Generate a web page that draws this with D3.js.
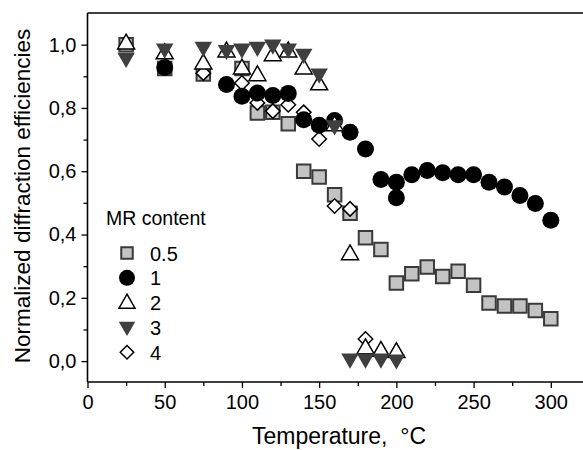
<!DOCTYPE html>
<html>
<head>
<script src="https://d3js.org/d3.v7.min.js"></script>
<style>
  body { margin: 0; background: #fff; }
  text { font-family: "Liberation Sans", Arial, sans-serif; fill: #000; }
</style>
</head>
<body>
<div id="chart"></div>
<script>
// temperatures (°C) and normalized efficiencies per MR content
var t05 = [25, 50, 75, 100, 110, 120, 130, 140, 150, 160, 170, 180, 190, 200, 210, 220, 230, 240, 250, 260, 270, 280, 290, 300];
var v05 = [1.0, 0.925, 0.907, 0.925, 0.784, 0.786, 0.75, 0.60, 0.582, 0.526, 0.467, 0.39, 0.353, 0.247, 0.276, 0.297, 0.267, 0.284, 0.24, 0.184, 0.174, 0.174, 0.16, 0.134];

var t1 = [50, 90, 100, 110, 120, 130, 140, 150, 160, 170, 180, 190, 200, 200, 210, 220, 230, 240, 250, 260, 270, 280, 290, 300];
var v1 = [0.928, 0.874, 0.837, 0.847, 0.839, 0.846, 0.763, 0.745, 0.76, 0.723, 0.67, 0.574, 0.565, 0.516, 0.589, 0.602, 0.595, 0.589, 0.589, 0.565, 0.55, 0.523, 0.498, 0.445];

var t2 = [25, 50, 75, 90, 100, 110, 120, 130, 140, 150, 160, 170, 180, 190, 200];
var v2 = [1.005, 0.974, 0.942, 0.98, 0.926, 0.905, 0.968, 0.98, 0.926, 0.876, 0.747, 0.339, 0.042, 0.034, 0.03];

var t3 = [25, 50, 75, 90, 100, 110, 120, 130, 140, 150, 160, 170, 180, 190, 200];
var v3 = [0.955, 0.984, 0.99, 0.98, 0.984, 0.99, 0.997, 0.984, 0.968, 0.905, 0.742, 0.005, 0.005, 0.005, 0.002];

var t4 = [75, 100, 110, 120, 130, 140, 150, 160, 170, 180];
var v4 = [0.91, 0.879, 0.816, 0.79, 0.81, 0.786, 0.702, 0.49, 0.481, 0.07];

var legendLabels = ["0.5", "1", "2", "3", "4"];

var width = 583, height = 450;
var svg = d3.select("#chart").append("svg")
    .attr("width", width).attr("height", height);

var x = d3.scaleLinear().domain([0, 321.5]).range([87.5, 584]);
var y = d3.scaleLinear().domain([-0.066, 1.1]).range([382, 13]);

// marker shapes, s = overall size in px
var shapes = {
    square: function (s) { return "M" + (-s / 2) + "," + (-s / 2) + "h" + s + "v" + s + "h" + (-s) + "Z"; },
    circle: function (s) { var r = s / 2; return "M" + r + ",0A" + r + "," + r + " 0 1,1 " + (-r) + ",0A" + r + "," + r + " 0 1,1 " + r + ",0Z"; },
    up: function (s) { var h = s * 0.87; return "M0," + (-h * 0.6) + "L" + (s / 2) + "," + (h * 0.4) + "L" + (-s / 2) + "," + (h * 0.4) + "Z"; },
    down: function (s) { var h = s * 0.87; return "M0," + (h * 0.6) + "L" + (s / 2) + "," + (-h * 0.4) + "L" + (-s / 2) + "," + (-h * 0.4) + "Z"; },
    diamond: function (s) { var r = s / 2; return "M0," + (-r) + "L" + r + ",0L0," + r + "L" + (-r) + ",0Z"; }
};

// drawing order: squares, diamonds, circles, up triangles, down triangles
var series = [
    { t: t05, v: v05, shape: "square", size: 13.5, fill: "#c3c3c3", stroke: "#3a3a3a", sw: 2 },
    { t: t4, v: v4, shape: "diamond", size: 14.5, fill: "#fff", stroke: "#000", sw: 1.5 },
    { t: t1, v: v1, shape: "circle", size: 17, fill: "#000", stroke: "none", sw: 0 },
    { t: t2, v: v2, shape: "up", size: 17, fill: "#fff", stroke: "#000", sw: 1.5 },
    { t: t3, v: v3, shape: "down", size: 17.5, fill: "#3f3f3f", stroke: "none", sw: 0 }
];

// top frame line
svg.append("line").attr("x1", x(0)).attr("x2", width).attr("y1", 13).attr("y2", 13)
    .attr("stroke", "#000").attr("stroke-width", 1.6);

var xAxis = svg.append("g").attr("transform", "translate(0," + y.range()[0] + ")")
    .call(d3.axisBottom(x).tickValues(d3.range(0, 325, 25)).tickSize(6)
        .tickFormat(function (d) { return d % 50 == 0 ? d : ""; }).tickPadding(7));
var yAxis = svg.append("g").attr("transform", "translate(" + x(0) + ",0)")
    .call(d3.axisLeft(y).tickValues(d3.range(0, 1.05, 0.1)).tickSize(6)
        .tickFormat(function (d, i) { return i % 2 == 0 ? d3.format(".1f")(d).replace(".", ",") : ""; }).tickPadding(5));

[xAxis, yAxis].forEach(function (g) {
    g.select(".domain").attr("stroke-width", 1.6);
    g.selectAll(".tick line").attr("stroke-width", 1.3);
    g.selectAll(".tick text").style("font-size", "20px").attr("font-family", "Liberation Sans, Arial, sans-serif");
});
xAxis.select(".domain").attr("d", "M" + x(0) + ",0H" + width);
yAxis.select(".domain").attr("d", "M0," + y.range()[0] + "V13");
xAxis.selectAll(".tick").filter(function (d) { return d % 50 != 0; }).select("line").attr("y2", 4);
yAxis.selectAll(".tick").filter(function (d, i) { return i % 2 == 1; }).select("line").attr("x2", -4);

// markers
series.forEach(function (s) {
    svg.append("g").selectAll("path").data(s.t).enter().append("path")
        .attr("transform", function (d, i) { return "translate(" + x(d) + "," + y(s.v[i]) + ")"; })
        .attr("d", shapes[s.shape](s.size))
        .attr("fill", s.fill).attr("stroke", s.stroke).attr("stroke-width", s.sw);
});

// legend
svg.append("text").attr("x", 106).attr("y", 225).text("MR content").style("font-size", "19.5px");
var legendOrder = [0, 2, 3, 4, 1];
legendLabels.forEach(function (lab, i) {
    var s = series[legendOrder[i]];
    var ly = 253 + i * 24.8;
    svg.append("path").attr("transform", "translate(127," + ly + ")")
        .attr("d", shapes[s.shape](s.shape == "square" ? 11.5 : s.size - 1))
        .attr("fill", s.fill).attr("stroke", s.stroke).attr("stroke-width", s.sw);
    svg.append("text").attr("x", 150).attr("y", ly + 7.5).text(lab).style("font-size", "20px");
});

// axis titles
svg.append("text").attr("x", 339).attr("y", 444).attr("text-anchor", "middle")
    .style("font-size", "23px").style("white-space", "pre").text("Temperature,  °C");
svg.append("text").attr("transform", "translate(30,196) rotate(-90)").attr("text-anchor", "middle")
    .style("font-size", "22.5px").text("Normalized diffraction efficiencies");
</script>
</body>
</html>
